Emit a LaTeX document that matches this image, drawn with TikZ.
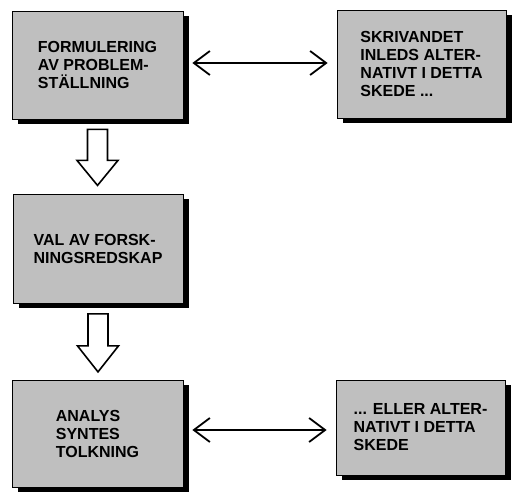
\documentclass[tikz,border=0pt]{standalone}
\usepackage{fontspec}
\setmainfont{Liberation Sans}
\usetikzlibrary{arrows.meta,shadows}
\colorlet{boxfill}{black!25}

\begin{document}
\begin{tikzpicture}[
            x=1pt,y=-1pt,
            every node/.append style={black},
            stagebox/.style={draw,line width=0.8pt,fill=boxfill,align=left,
                font=\bfseries\fontsize{16}{18}\selectfont,
                drop shadow={shadow xshift=5.5pt,shadow yshift=-5pt,fill=black,opacity=1}},
            biarrow/.style={line width=1.8pt,
                {Straight Barb[length=16pt,width=24pt,line width=1.8pt]}-{Straight Barb[length=16pt,width=24pt,line width=1.8pt]},
                shorten <=9pt,shorten >=9pt},
            blockarrow/.style={line width=1.6pt,fill=white,line join=miter}
        ]
            \useasboundingbox (0,0) rectangle (513,492);
            % left column
            \node [stagebox,minimum width=171pt,minimum height=108pt] (form) at (97.5,65)
                {FORMULERING\\AV PROBLEM-\\STÄLLNING};
            \node [stagebox,minimum width=170pt,minimum height=109pt] (val) at (98,248.5)
                {VAL AV FORSK-\\NINGSREDSKAP};
            \node [stagebox,minimum width=171pt,minimum height=107pt] (analys) at (97.5,433.5)
                {ANALYS\\SYNTES\\TOLKNING};
            % right column
            \node [stagebox,minimum width=169pt,minimum height=108pt] (skriv) at (421.5,64)
                {SKRIVANDET\\INLEDS ALTER-\\NATIVT I DETTA\\SKEDE ...};
            \node [stagebox,minimum width=169pt,minimum height=95pt] (eller) at (420.5,427.5)
                {... ELLER ALTER-\\NATIVT I DETTA\\SKEDE};
            \coordinate (b1) at ([yshift=-10pt]form.south);
            \coordinate (b2) at ([yshift=-10.5pt]val.south);
            \draw [blockarrow] (b1) ++(-10,0) -- ++(0,31) -- ++(-10.5,0) -- ++(20.5,25)
                -- ++(20.5,-25) -- ++(-10.5,0) -- ++(0,-31) -- cycle;
            \draw [blockarrow] (b2) ++(-10,0) -- ++(0,32) -- ++(-10.5,0) -- ++(20.5,26)
                -- ++(20.5,-26) -- ++(-10.5,0) -- ++(0,-32) -- cycle;
            \draw [biarrow] (form.east |- 0,63) -- (skriv.west |- 0,63);
            \draw [biarrow] (analys.east |- 0,430) -- (eller.west |- 0,430);
        \end{tikzpicture}
\end{document}
